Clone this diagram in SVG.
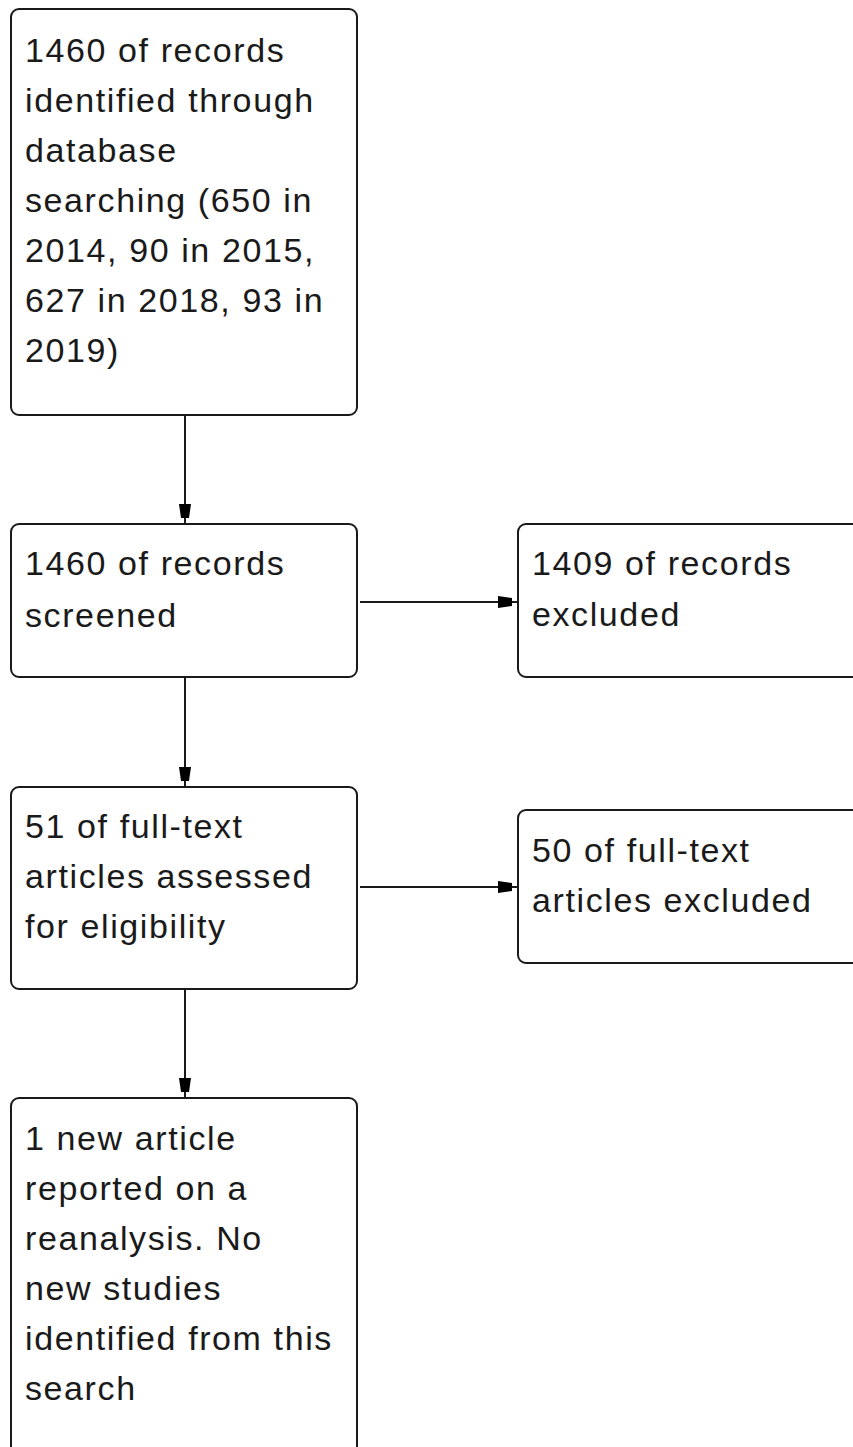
<svg xmlns="http://www.w3.org/2000/svg" width="853" height="1447" viewBox="0 0 853 1447">
<style>
.box{fill:#fff;stroke:#1a1a1a;stroke-width:2}
.t{font-family:"Liberation Sans",Arial,sans-serif;font-size:34px;letter-spacing:1.6px;fill:#1a1a1a}
.c{stroke:#1a1a1a;stroke-width:2;fill:none}
</style>
<defs>
<marker id="ah" markerUnits="userSpaceOnUse" markerWidth="24" markerHeight="14" viewBox="0 -7 24 14" refX="20" refY="0" orient="auto">
<path d="M0,-6 L14,-4 L14,4 L0,6 Z" fill="#000"/>
</marker>
</defs>
<rect width="853" height="1447" fill="#fff"/>
<g id="connectors">
<line class="c" x1="185" y1="415" x2="185" y2="524" marker-end="url(#ah)"/>
<line class="c" x1="360" y1="602" x2="518" y2="602" marker-end="url(#ah)"/>
<line class="c" x1="185" y1="677" x2="185" y2="787" marker-end="url(#ah)"/>
<line class="c" x1="360" y1="887" x2="518" y2="887" marker-end="url(#ah)"/>
<line class="c" x1="185" y1="989" x2="185" y2="1098" marker-end="url(#ah)"/>
</g>
<g id="n1">
<rect class="box" x="11" y="9" width="346" height="406" rx="8"/>
<text class="t"><tspan x="25" y="62">1460 of records</tspan><tspan x="25" y="112">identified through</tspan><tspan x="25" y="162">database</tspan><tspan x="25" y="212">searching (650 in</tspan><tspan x="25" y="262">2014, 90 in 2015,</tspan><tspan x="25" y="312">627 in 2018, 93 in</tspan><tspan x="25" y="362">2019)</tspan></text>
</g>
<g id="n2">
<rect class="box" x="11" y="524" width="346" height="153" rx="8"/>
<text class="t"><tspan x="25" y="575">1460 of records</tspan><tspan x="25" y="627">screened</tspan></text>
</g>
<g id="n3">
<rect class="box" x="518" y="524" width="360" height="153" rx="8"/>
<text class="t"><tspan x="532" y="575">1409 of records</tspan><tspan x="532" y="626">excluded</tspan></text>
</g>
<g id="n4">
<rect class="box" x="11" y="787" width="346" height="202" rx="8"/>
<text class="t"><tspan x="25" y="838">51 of full-text</tspan><tspan x="25" y="888">articles assessed</tspan><tspan x="25" y="938">for eligibility</tspan></text>
</g>
<g id="n5">
<rect class="box" x="518" y="810" width="360" height="153" rx="8"/>
<text class="t"><tspan x="532" y="862">50 of full-text</tspan><tspan x="532" y="912">articles excluded</tspan></text>
</g>
<g id="n6">
<rect class="box" x="11" y="1098" width="346" height="380" rx="8"/>
<text class="t"><tspan x="25" y="1150">1 new article</tspan><tspan x="25" y="1200">reported on a</tspan><tspan x="25" y="1250">reanalysis. No</tspan><tspan x="25" y="1300">new studies</tspan><tspan x="25" y="1350">identified from this</tspan><tspan x="25" y="1400">search</tspan></text>
</g>
</svg>
